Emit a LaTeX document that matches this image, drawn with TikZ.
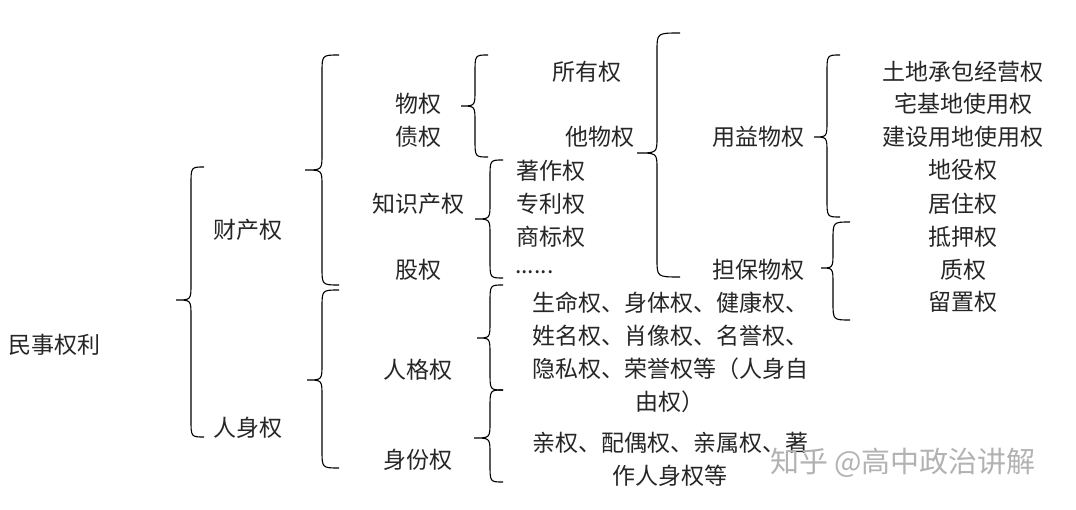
\documentclass[tikz,border=0pt]{standalone}
\usepackage{fontspec}
\setmainfont{Noto Sans CJK SC}
\newcommand\brc[6]{\draw[brl] (#1,#2) .. controls (#3,#2) .. (#3,#2+18) -- (#3,#5-16) .. controls (#3,#5) .. (#4,#5) .. controls (#3,#5) .. (#3,#5+16) -- (#3,#6-18) .. controls (#3,#6) .. (#1,#6);}
\begin{document}
\begin{tikzpicture}[x=1pt,y=-1pt,
  brl/.style={line width=1.1pt},
  t/.style={font=\fontsize{23}{33}\selectfont, inner sep=0pt, text=black!85},
  blk/.style={t, align=center}]
\useasboundingbox (0,0) rectangle (1076,510);
\brc{204}{167}{191}{176}{300}{437}
\brc{339}{55}{322}{305}{170}{285}
\brc{339}{290}{322}{307}{380}{468}
\brc{488}{55}{475}{461}{106}{157}
\brc{503}{160}{490}{475}{219}{278}
\brc{503}{285}{490}{477}{338}{390}
\brc{503}{390}{490}{474}{438}{482}
\brc{680}{33}{657}{637}{153}{277}
\brc{840}{55}{827}{814}{137}{217}
\brc{850}{222}{833}{821}{268}{320}
\node[t] (a) at (55,345) {民事权利};
\node[t] (b1) at (248,230) {财产权};
\node[t] (b2) at (248,428) {人身权};
\node[t] (c1) at (418,104) {物权};
\node[t] (c2) at (418,137) {债权};
\node[t] (c3) at (418,204) {知识产权};
\node[t] (c4) at (418,270) {股权};
\node[t] (c5) at (418,370) {人格权};
\node[t] (c6) at (418,460) {身份权};
\node[t] (d1) at (587,72) {所有权};
\node[t] (d2) at (600,137) {他物权};
\node[t] (e1) at (551,171) {著作权};
\node[t] (e2) at (551,204) {专利权};
\node[t] (e3) at (551,237) {商标权};
\node[t,anchor=west] (e4) at (515,272) {......};
\node[t] (f1) at (758,137) {用益物权};
\node[t] (f2) at (758,270) {担保物权};
\foreach \s/\y [count=\i] in {土地承包经营权/72,宅基地使用权/104,建设用地使用权/137,地役权/170,居住权/204,抵押权/237,质权/270,留置权/302}
  \node[t] (g\i) at (963,\y) {\s};
\node[blk] (h1) at (670,352) {生命权、身体权、健康权、\\姓名权、肖像权、名誉权、\\隐私权、荣誉权等（人身自\\由权）};
\node[blk] (h2) at (670,459) {亲权、配偶权、亲属权、著\\作人身权等};
\node[font=\fontsize{29}{32}\selectfont, text=black!30, inner sep=0pt] (wm) at (903,463) {知乎 @高中政治讲解};
\end{tikzpicture}
\end{document}
